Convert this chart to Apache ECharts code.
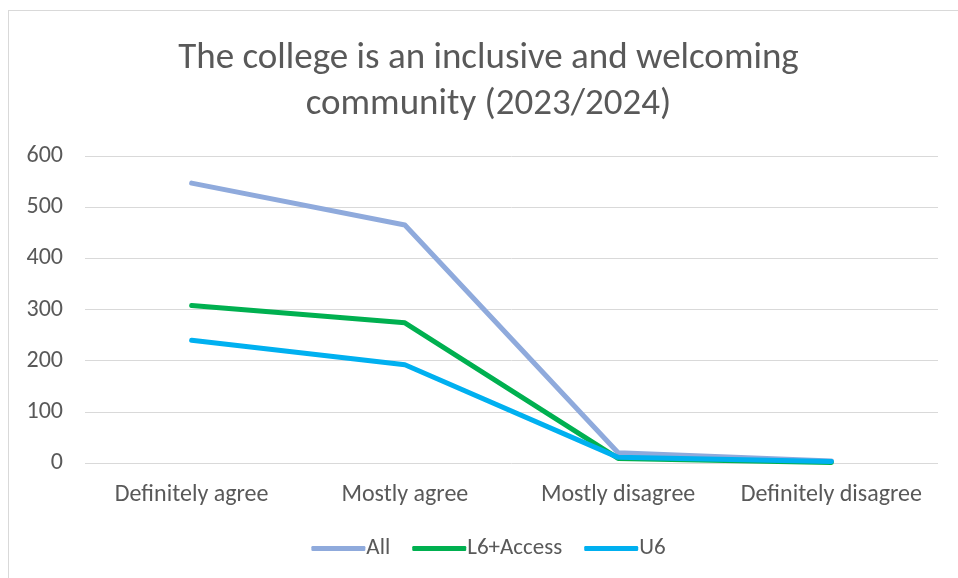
<!DOCTYPE html>
<html>
<head>
<meta charset="utf-8">
<script src="https://cdn.jsdelivr.net/npm/echarts@6/dist/echarts.min.js"></script>
<style>
  html, body { margin: 0; padding: 0; background: #fff; }
  #chart { position: absolute; left: 8px; top: 10px; width: 960px; height: 570px;
           border-left: 1px solid #d9d9d9; border-top: 1px solid #d9d9d9; box-sizing: border-box; }
</style>
</head>
<body>
<div id="chart"></div>
<script>
const categories = ["Definitely agree", "Mostly agree", "Mostly disagree", "Definitely disagree"];
const allValues = [547, 465, 20, 4];
const l6Values = [308, 274, 9, 1];
const u6Values = [240, 192, 11, 3];
const yTicks = [0, 100, 200, 300, 400, 500, 600];

const font = "Calibri, Carlito, Lato, sans-serif";
const textColor = "#595959";

function lineSeries(name, data, color) {
    return {
        name: name,
        type: "line",
        data: data,
        symbol: "none",
        lineStyle: { color: color, width: 5, cap: "round", join: "round" },
        itemStyle: { color: color },
    };
}

const chart = echarts.init(document.getElementById("chart"));
chart.setOption({
    animation: false,
    title: {
        text: "The college is an inclusive and welcoming\ncommunity (2023/2024)",
        left: "center",
        top: 20,
        textStyle: { fontFamily: font, fontSize: 37, fontWeight: "normal", color: textColor, lineHeight: 46 },
    },
    grid: { left: 76, right: 30, top: 145, bottom: 117 },
    legend: {
        bottom: 15,
        left: "center",
        itemWidth: 54,
        itemHeight: 5,
        itemGap: 22,
        icon: "roundRect",
        textStyle: { fontFamily: font, fontSize: 23, color: textColor, padding: [0, 0, 0, -4] },
        data: ["All", "L6+Access", "U6"],
    },
    xAxis: {
        type: "category",
        data: categories,
        boundaryGap: true,
        axisLine: { show: false },
        axisTick: { show: false },
        axisLabel: { fontFamily: font, fontSize: 24, color: textColor, margin: 20, interval: 0 },
    },
    yAxis: {
        type: "value",
        min: yTicks[0],
        max: yTicks[yTicks.length - 1],
        interval: 100,
        axisLine: { show: false },
        axisTick: { show: false },
        axisLabel: { fontFamily: font, fontSize: 24, color: textColor, margin: 22 },
        splitLine: { lineStyle: { color: "#d9d9d9", width: 1 } },
    },
    series: [
        lineSeries("All", allValues, "#8faadc"),
        lineSeries("L6+Access", l6Values, "#00b050"),
        lineSeries("U6", u6Values, "#00b0f0"),
    ],
});
</script>
</body>
</html>
